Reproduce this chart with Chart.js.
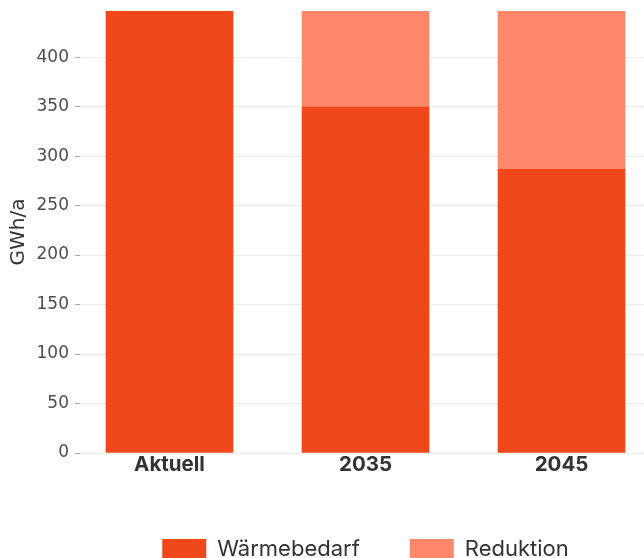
<!DOCTYPE html>
<html>
<head>
<meta charset="utf-8">
<script src="https://cdn.jsdelivr.net/npm/chart.js@4"></script>
<style>
html,body{margin:0;padding:0;background:#fff;overflow:hidden;}
#wrap{width:644px;height:558px;overflow:hidden;position:relative;}
#box{width:731px;height:570px;position:absolute;left:0;top:0;}
</style>
</head>
<body>
<div id="wrap"><div id="box"><canvas id="c"></canvas></div></div>
<script>
const categories = ['Aktuell', '2035', '2045'];
const waermebedarf = [446.6, 349.4, 286.6];
const reduktion = [0, 97.2, 160.0];
const yTicks = [0, 50, 100, 150, 200, 250, 300, 350, 400];
const yMax = 446.6;
const seriesNames = ['Wärmebedarf', 'Reduktion'];

const FONT = 'Inter';
const pos = categories.map((c, i) => i + 1);

new Chart(document.getElementById('c'), {
  type: 'bar',
  data: {
    datasets: [
      {
        label: seriesNames[0],
        data: pos.map((p, i) => ({x: p, y: waermebedarf[i]})),
        backgroundColor: '#F1481B',
        borderWidth: 0
      },
      {
        label: seriesNames[1],
        data: pos.map((p, i) => ({x: p, y: reduktion[i]})),
        backgroundColor: '#FC886C',
        borderWidth: 0
      }
    ]
  },
  options: {
    responsive: true,
    maintainAspectRatio: false,
    animation: false,
    barThickness: 127,
    layout: {padding: {top: 11, left: 0, right: 0, bottom: 0}},
    plugins: {
      tooltip: {enabled: false},
      legend: {
        position: 'bottom',
        labels: {
          font: {family: FONT, size: 22},
          color: '#333333',
          boxWidth: 44,
          boxHeight: 20,
          padding: 50
        }
      }
    },
    scales: {
      x: {
        type: 'linear',
        stacked: true,
        offset: false,
        min: 1 - (169.5 - 80) / 196,
        max: 3 + (731 - 561.5) / 196,
        afterBuildTicks: (s) => { s.ticks = pos.map(v => ({value: v})); },
        afterFit: (s) => { s.height = 35; s.paddingLeft = 0; s.paddingRight = 0; },
        grid: {display: false, drawTicks: false, offset: false},
        border: {display: false},
        ticks: {
          autoSkip: false,
          maxRotation: 0,
          padding: 0,
          color: '#333333',
          font: {family: FONT, size: 20.5, weight: 'bold'},
          callback: (v) => categories[v - 1] || ''
        }
      },
      y: {
        stacked: true,
        min: 0,
        max: yMax,
        afterBuildTicks: (s) => { s.ticks = yTicks.map(v => ({value: v})); },
        afterFit: (s) => { s.width = 80; s.paddingTop = 0; s.paddingBottom = 0; },
        grid: {color: '#EBEBEB', lineWidth: 1, tickLength: 5, tickColor: '#AAAAAA'},
        border: {display: false},
        ticks: {
          padding: 6,
          color: '#4D4D4D',
          font: {family: 'DejaVu Sans', size: 17}
        },
        title: {
          display: true,
          text: 'GWh/a',
          color: '#333333',
          font: {family: 'DejaVu Sans', size: 20},
          padding: {top: 7, bottom: 0}
        }
      }
    }
  }
});
</script>
</body>
</html>
